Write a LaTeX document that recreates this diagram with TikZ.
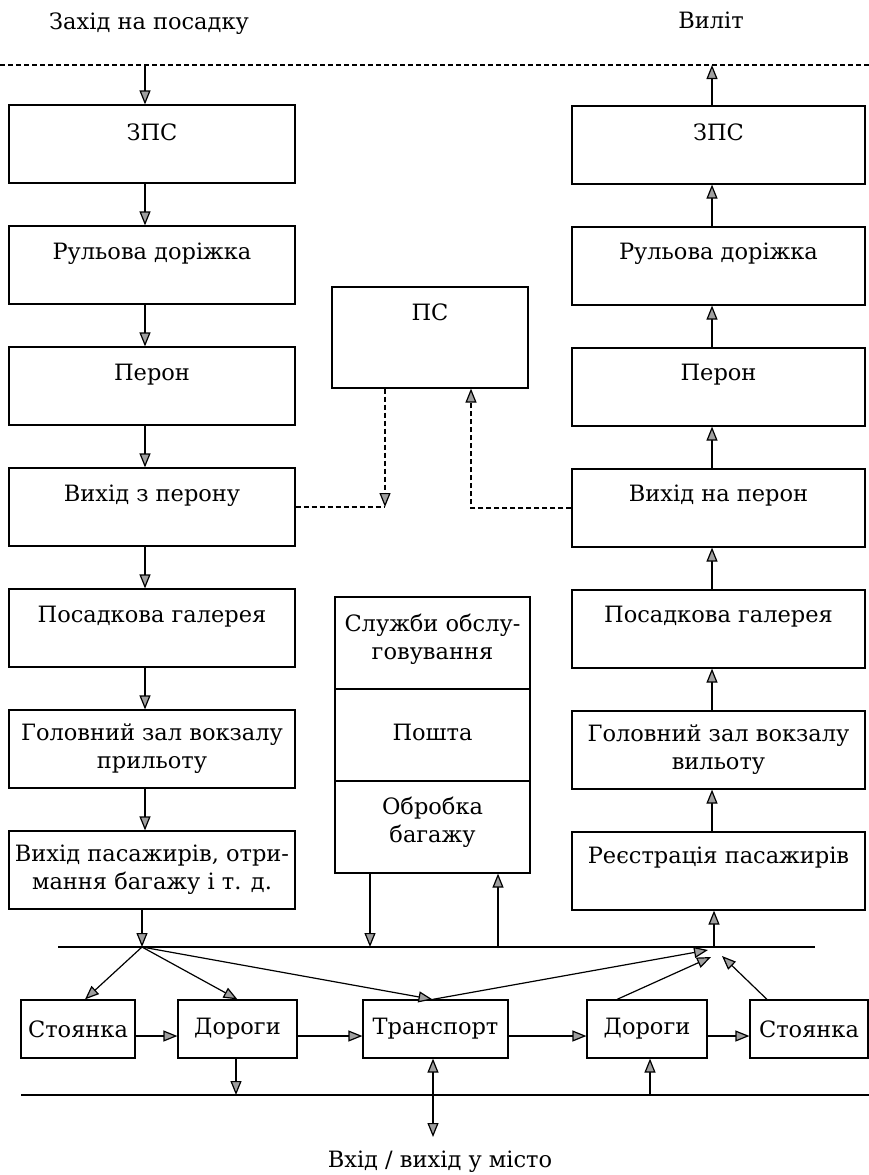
\documentclass[tikz,border=0pt]{standalone}
\usepackage{fontspec}
\setmainfont{DejaVu Serif}
\usetikzlibrary{arrows.meta,calc}
\begin{document}
\begin{tikzpicture}[x=1pt,y=-1pt,
  every node/.style={font=\fontsize{22.5}{28}\selectfont},
  box/.style={draw, line width=1.2pt, inner sep=0pt, align=center},
  lbox/.style={box, minimum width=286pt, minimum height=78pt},
  rbox/.style={box, minimum width=293pt, minimum height=78pt},
  mbox/.style={box, minimum width=195pt, minimum height=92pt},
  bbox/.style={box, minimum height=58pt},
  txt/.style={inner sep=0pt, align=center},
  arr/.style={line width=1.2pt, -{Triangle[length=14pt,width=11pt,fill=gray!75]}},
  darr/.style={line width=1.2pt, {Triangle[length=14pt,width=11pt,fill=gray!75]}-{Triangle[length=14pt,width=11pt,fill=gray!75]}},
  dsh/.style={line width=1.2pt, dash pattern=on 5pt off 3pt},
  bus/.style={line width=1.2pt}
]
\useasboundingbox (0,0) rectangle (869,1175);

% headings
\node[txt] (hin) at (149,24) {Захід на посадку};
\node[txt] (hout) at (711,20) {Виліт};
\coordinate (dl) at (0,65);
\coordinate (dr) at (869,65);
\draw[dsh] (dl) -- (dr);
\coordinate (topL) at (145,65);
\coordinate (topR) at (712,65);

% left column
\node[lbox] (zpsL) at (152,144) {};
\node[lbox] (rulL) at (152,265) {};
\node[lbox] (perL) at (152,386) {};
\node[lbox] (vyhL) at (152,507) {};
\node[lbox] (galL) at (152,628) {};
\node[lbox] (zalL) at (152,749) {Головний зал вокзалу\\прильоту};
\node[lbox] (pasL) at (152,870) {Вихід пасажирів, отри-\\мання багажу і т. д.};
\node[txt] (zpsLt) at ([yshift=-28pt]zpsL.north) {ЗПС};
\node[txt] (rulLt) at ([yshift=-28pt]rulL.north) {Рульова доріжка};
\node[txt] (perLt) at ([yshift=-28pt]perL.north) {Перон};
\node[txt] (vyhLt) at ([yshift=-28pt]vyhL.north) {Вихід з перону};
\node[txt] (galLt) at ([yshift=-28pt]galL.north) {Посадкова галерея};

% right column
\node[rbox] (zpsR) at (718.5,145) {};
\node[rbox] (rulR) at (718.5,266) {};
\node[rbox] (perR) at (718.5,387) {};
\node[rbox] (vyhR) at (718.5,508) {};
\node[rbox] (galR) at (718.5,629) {};
\node[rbox] (zalR) at (718.5,750) {Головний зал вокзалу\\вильоту};
\node[rbox] (regR) at (718.5,871) {};
\node[txt] (zpsRt) at ([yshift=-27pt]zpsR.north) {ЗПС};
\node[txt] (rulRt) at ([yshift=-27pt]rulR.north) {Рульова доріжка};
\node[txt] (perRt) at ([yshift=-27pt]perR.north) {Перон};
\node[txt] (vyhRt) at ([yshift=-27pt]vyhR.north) {Вихід на перон};
\node[txt] (galRt) at ([yshift=-27pt]galR.north) {Посадкова галерея};
\node[txt] (regRt) at ([yshift=-26pt]regR.north) {Реєстрація пасажирів};

% column arrows
\draw[arr] (topL) -- (zpsL.north -| topL);
\foreach \a/\b in {zpsL/rulL, rulL/perL, perL/vyhL, vyhL/galL, galL/zalL, zalL/pasL}
  \draw[arr] (\a.south -| topL) -- (\b.north -| topL);
\foreach \a/\b in {regR/zalR, zalR/galR, galR/vyhR, vyhR/perR, perR/rulR, rulR/zpsR}
  \draw[arr] (\a.north -| topR) -- (\b.south -| topR);
\draw[arr] (zpsR.north -| topR) -- (topR);

% PS box and dashed links
\node[box, minimum width=196pt, minimum height=101pt] (ps) at (430,337.5) {};
\node[txt] (pst) at ([yshift=-26pt]ps.north) {ПС};
\coordinate (pa) at (385,507);
\coordinate (pb) at (471,508);
\draw[dsh] (vyhL.east) -- (pa);
\draw[dsh, -{Triangle[length=14pt,width=11pt,fill=gray!75]}] (ps.south -| pa) -- (pa);
\draw[dsh, -{Triangle[length=14pt,width=11pt,fill=gray!75]}] (vyhR.west) -- (pb) -- (ps.south -| pb);

% middle services stack
\node[mbox] (ms1) at (432.5,643) {};
\node[mbox] (ms2) at (432.5,735) {};
\node[mbox] (ms3) at (432.5,827) {};
\node[txt] (ms1t) at ([yshift=4pt]ms1.center) {Служби обслу-\\говування};
\node[txt] (ms2t) at ([yshift=3pt]ms2.center) {Пошта};
\node[txt] (ms3t) at ([yshift=5pt]ms3.center) {Обробка\\багажу};

% upper bus
\coordinate (b1a) at (58,947);
\coordinate (b1b) at (815,947);
\draw[bus] (b1a) -- (b1b);
\coordinate (cL) at (142,947);
\coordinate (cR) at (714,947);
\coordinate (m1) at (370,947);
\coordinate (m2) at (498,947);
\draw[arr] (pasL.south -| cL) -- (cL);
\draw[arr] (ms3.south -| m1) -- (m1);
\draw[arr] (m2) -- (ms3.south -| m2);
\draw[arr] (cR) -- (regR.south -| cR);

% bottom row
\node[bbox, minimum width=114pt] (stL) at (78,1029) {Стоянка};
\node[bbox, minimum width=119pt] (drL) at (237.5,1029) {Дороги};
\node[bbox, minimum width=145pt] (tr) at (435.5,1029) {Транспорт};
\node[bbox, minimum width=120pt] (drR) at (647,1029) {Дороги};
\node[bbox, minimum width=118pt] (stR) at (809,1029) {Стоянка};

\draw[arr] ([yshift=-7pt]stL.east) -- ([yshift=-7pt]drL.west);
\draw[arr] ([yshift=-7pt]drL.east) -- ([yshift=-7pt]tr.west);
\draw[arr] ([yshift=-7pt]tr.east) -- ([yshift=-7pt]drR.west);
\draw[arr] ([yshift=-7pt]drR.east) -- ([yshift=-7pt]stR.west);

% fan from left junction
\draw[arr] (cL) -- ([xshift=7pt]stL.north);
\draw[arr] (cL) -- (drL.north);
\draw[arr] (cL) -- ([xshift=-3pt]tr.north);
% fan into right junction
\coordinate (r1) at (708,950);
\coordinate (r2) at (711,957);
\coordinate (r3) at (722,956);
\draw[arr] ([xshift=-3pt]tr.north) -- (r1);
\draw[arr] ([xshift=-30pt]drR.north) -- (r2);
\draw[arr] ([xshift=-42pt]stR.north) -- (r3);

% lower bus
\coordinate (b2a) at (21,1095);
\coordinate (b2b) at (869,1095);
\draw[bus] (b2a) -- (b2b);
\coordinate (d1) at (236,1095);
\coordinate (d2) at (650,1095);
\draw[arr] (drL.south -| d1) -- (d1);
\draw[arr] (d2) -- (drR.south -| d2);
\coordinate (cityA) at (433,1137);
\draw[darr] (tr.south -| cityA) -- (cityA);
\node[txt] (city) at (440,1162) {Вхід / вихід у місто};
\end{tikzpicture}
\end{document}
